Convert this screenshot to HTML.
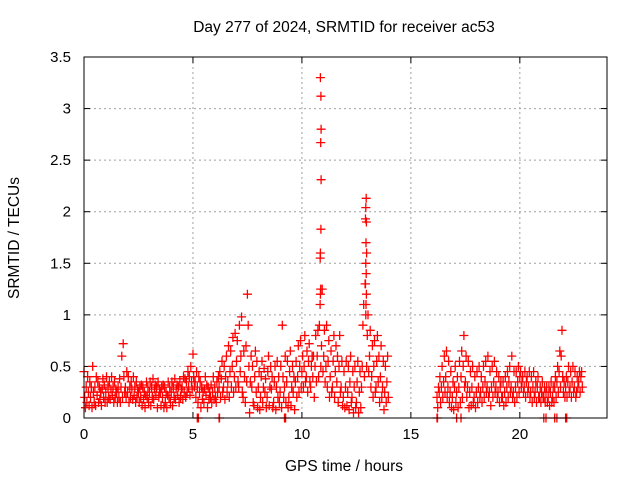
<!DOCTYPE html>
<html><head><meta charset="utf-8"><style>
body{margin:0;background:#fff}
svg{display:block;font-family:"Liberation Sans",sans-serif}
</style></head><body>
<svg id="chart" width="640" height="480" viewBox="0 0 640 480" xmlns="http://www.w3.org/2000/svg">
<rect width="640" height="480" fill="#fff"/>
<text x="344" y="32" font-size="15.5" text-anchor="middle">Day 277 of 2024, SRMTID for receiver ac53</text>
<text x="344" y="471" font-size="15.5" text-anchor="middle">GPS time / hours</text>
<text x="0" y="0" font-size="15.5" text-anchor="middle" transform="translate(19,238) rotate(-90)">SRMTID / TECUs</text>
<g id="grid"></g>
<g id="ticks"></g>
<g id="points"></g>
<rect x="84" y="57" width="523" height="361" fill="none" stroke="#000" stroke-width="1"/>
</svg>
<script>
const xTicks=[0,5,10,15,20];
const yTicks=[0,0.5,1,1.5,2,2.5,3,3.5];
const yTickLabels=["0","0.5","1","1.5","2","2.5","3","3.5"];
const segAStart=0.0;
const segAValues=[
.45,.2,.1, .3,.15,.4, .25,.12,.35, .2,.3,.1, .5,.25,.15, .3,.12,.4, .22,.35,.15, .3,.18,.25, .12,.28,.38, .2,.32,.15,
.25,.4,.15, .3,.2,.35, .18,.28,.4, .22,.3,.15, .35,.2,.28, .25,.15,.3, .2,.38,.15, .3,.6,.2, .72,.4,.25, .3,.2,.45,
.25,.4,.15, .3,.2,.35, .28,.18,.4, .22,.3,.15, .35,.2,.28, .25,.15,.3, .2,.32,.12, .3,.18,.25, .1,.22,.35, .2,.3,.15,
.25,.35,.12, .3,.2,.38, .18,.28,.32, .22,.3,.1, .35,.2,.28, .25,.12,.3, .2,.32,.1, .3,.15,.25, .1,.22,.35, .2,.3,.15,
.25,.35,.12, .3,.2,.38, .18,.28,.32, .22,.3,.15, .35,.2,.28, .3,.18,.4, .25,.38,.2, .35,.25,.45, .3,.4,.22, .5,.35,.28,
.62,.4,.3, .35,.2,.45, .3,.15,.4, .25,.35,.1, .3,.18,.25, .15,.28,.4, .22,.32,.1, .3,.18,.25, .2,.32,.15, .25,.4,.18,
.3,.2,.15, .35,.25,.4, .3,.45,.2, .38,.55,.25, .3,.5,.18, .4,.6,.25, .35,.7,.2, .45,.65,.3, .5,.78,.25, .4,.82,.3,
.55,.75,.35, .3,.9,.45, .6,.98,.25, .2,.65,.4, .15,.7,.35, 1.2,.9,.5, .05,.35,.6, .3,.5,.15, .12,.4,.65, .25,.55,.1,
.3,.45,.08, .2,.4,.55, .15,.3,.48, .25,.38,.1, .2,.45,.6, .12,.3,.5, .28,.4,.1, .15,.35,.5, .08,.3,.55, .2,.4,.15,
.25,.5,.1, .9,.4,.2, .3,.6,.15, .35,.55,.1, .2,.45,.65, .12,.3,.5, .25,.4,.08, .35,.55,.2, .4,.7,.25, .5,.75,.3,
.45,.6,.3, .5,.8,.35, .4,.65,.25, .55,.72,.35, .3,.5,.6, .4,.6,.2, .5,.8,.35, .6,.85,.4, .9,1.1,.5, .7,1.25,.45,
.6,.85,.35, .5,.9,.3, .55,.75,.2, .4,.65,.25, .3,.55,.8, .2,.45,.7, .35,.6,.15, .5,.8,.25, .3,.55,.12, .2,.45,.1,
.3,.55,.12, .25,.5,.08, .35,.6,.15, .2,.45,.05, .3,.5,.1, .15,.35,.55, .05,.25,.45, .1,.3,.5, .9,1.1,.4, 1.3,1.0,.5,
.8,1.0,.45, .6,.85,.3, .4,.7,.2, .5,.75,.25, .3,.55,.8, .35,.6,.15, .4,.7,.2, .3,.55,.08, .25,.5,.15, .35,.6,.2
];
const segBStart=16.2;
const segBValues=[
.2,.1,.3, .25,.4,.15, .3,.5,.2, .35,.6,.25, .4,.65,.2, .3,.55,.15, .25,.45,.1, .2,.35,.08, .3,.5,.15, .25,.4,.1,
.3,.55,.15, .4,.65,.2, .5,.8,.3, .35,.6,.2, .3,.55,.1, .25,.45,.12, .3,.5,.15, .2,.4,.1, .25,.45,.15, .3,.5,.2,
.25,.4,.15, .3,.5,.2, .35,.55,.25, .3,.6,.2, .25,.45,.12, .3,.5,.2, .35,.55,.25, .3,.45,.2, .25,.4,.15, .3,.35,.2,
.2,.35,.12, .25,.4,.15, .3,.45,.2, .35,.5,.25, .3,.6,.2, .25,.45,.15, .3,.45,.2, .35,.5,.25, .4,.45,.3, .35,.4,.25,
.3,.45,.2, .35,.4,.25, .3,.45,.2, .25,.4,.15, .3,.45,.2, .25,.35,.15, .3,.4,.2, .2,.3,.15, .25,.35,.2, .2,.3,.15,
.25,.3,.15, .2,.3,.12, .25,.35,.15, .2,.3,.15, .3,.4,.2, .35,.5,.25, .45,.65,.3, .6,.85,.4, .25,.35,.2, .3,.4,.2,
.35,.5,.25, .3,.45,.2, .35,.5,.25, .3,.45,.2, .25,.4,.3, .35,.45,.25, .4,.45,.3
];
const spikeTimes=[10.85,10.87,10.88,10.86,10.88,10.87,10.85,10.84,10.86,10.85,12.95,12.93,12.92,12.96,12.94,12.97,12.93,12.95,12.92,12.96,12.94];
const spikeValues=[3.3,3.12,2.8,2.67,2.31,1.83,1.6,1.55,1.25,1.2,2.13,2.04,1.93,1.9,1.7,1.6,1.5,1.4,1.3,1.2,1.1];
const zeroTimes=[5.2,5.25,6.2,6.22,9.2,9.25,16.2,16.22,17.1,17.3,21.1,21.2,21.6,21.7,22.1,22.15];
const stepH=0.1;

const L=84,R=607,T=57,B=418,XMAX=24,YMAX=3.5;
const xs=v=>L+(v/XMAX)*(R-L);
const ys=v=>B-(v/YMAX)*(B-T);
const NS="http://www.w3.org/2000/svg";
const grid=document.getElementById('grid'),ticks=document.getElementById('ticks'),pts=document.getElementById('points');
function mk(tag,attrs,parent){const e=document.createElementNS(NS,tag);for(const k in attrs)e.setAttribute(k,attrs[k]);parent.appendChild(e);return e;}
xTicks.forEach(v=>{
  const x=xs(v);
  if(v>0){const g=mk('line',{x1:x,x2:x,y1:T,y2:B,stroke:'#a0a0a0','stroke-dasharray':'2,3'},grid);
  
  }
  mk('line',{x1:x,x2:x,y1:B,y2:B-6,stroke:'#000'},ticks);
  mk('line',{x1:x,x2:x,y1:T,y2:T+6,stroke:'#000'},ticks);
  const t=mk('text',{x:x,y:B+21,'font-size':15,'text-anchor':'middle'},ticks);t.textContent=v;
  
  
});
yTicks.forEach((v,i)=>{
  const y=ys(v);
  if(v>0&&v<YMAX){const g=mk('line',{x1:L,x2:R,y1:y,y2:y,stroke:'#a0a0a0','stroke-dasharray':'2,3'},grid);
  
  }
  mk('line',{x1:L,x2:L+6,y1:y,y2:y,stroke:'#000'},ticks);
  mk('line',{x1:R,x2:R-6,y1:y,y2:y,stroke:'#000'},ticks);
  const t=mk('text',{x:L-13,y:y+5,'font-size':15,'text-anchor':'end'},ticks);t.textContent=yTickLabels[i];
  
  
});
let d='';
function plus(t,v){const x=xs(t),y=ys(v);d+=`M${(x-4.5).toFixed(1)} ${y.toFixed(1)}h9M${x.toFixed(1)} ${(y-4.5).toFixed(1)}v9`;}
function seg(start,vals){for(let i=0;i<vals.length;i++){const step=Math.floor(i/3),k=i%3;plus(start+step*stepH+k*0.033,vals[i]);}}
seg(segAStart,segAValues);
seg(segBStart,segBValues);
spikeTimes.forEach((t,i)=>plus(t,spikeValues[i]));
zeroTimes.forEach(t=>plus(t,0));
const p=mk('path',{d:d,stroke:'#ff0000','stroke-width':1.3,fill:'none'},pts);


</script>
</body></html>
